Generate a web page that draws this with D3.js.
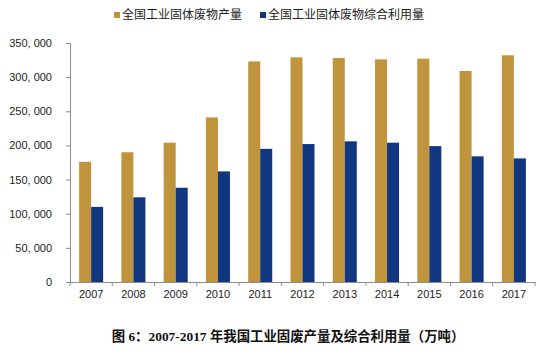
<!DOCTYPE html>
<html><head><meta charset="utf-8">
<script src="https://cdn.jsdelivr.net/npm/d3@7"></script>
<style>body{margin:0;background:#fff;}</style>
</head><body>
<svg id="chart" width="546" height="357"></svg>
<script>
const years = ["2007","2008","2009","2010","2011","2012","2013","2014","2015","2016","2017"];
const production = [176000,190000,204000,241000,323000,329000,328000,326000,327000,309000,332000];
const utilization = [110000,124000,138000,162000,195000,202000,206000,204000,199000,184000,181000];
const seriesNames = ["全国工业固体废物产量","全国工业固体废物综合利用量"];
const seriesColors = ["#C0943C","#10367F"];
const yTicks = [0,50000,100000,150000,200000,250000,300000,350000];
const caption = "图 6：2007-2017 年我国工业固废产量及综合利用量（万吨）";

const svg = d3.select("#chart");
const x0 = d3.scaleBand().domain(years).range([70,535]).padding(0);
const x1 = d3.scaleBand().domain([0,1]).range([0,x0.bandwidth()]).paddingInner(0).paddingOuter(0.76);
const y = d3.scaleLinear().domain([0,350000]).range([282,43]);
const axisColor = "#8c8c8c";

// bars
const data = [production, utilization];
data.forEach((vals, s) => {
  svg.append("g").selectAll("rect").data(years).join("rect")
    .attr("x", (d) => x0(d) + x1(s))
    .attr("width", x1.bandwidth())
    .attr("y", (d,i) => y(vals[i]))
    .attr("height", (d,i) => y(0) - y(vals[i]))
    .attr("fill", seriesColors[s]);
});

// y axis
const fmt = v => d3.format(",")(v).replace(/,/g, ", ");
const yAxis = svg.append("g").attr("transform","translate(70,0)")
  .call(d3.axisLeft(y).tickValues(yTicks).tickFormat(fmt).tickSize(4).tickPadding(14));
yAxis.select(".domain").attr("stroke", axisColor);
yAxis.selectAll(".tick line").attr("stroke", axisColor);
yAxis.selectAll("text").attr("fill","#222").style("font-family","Liberation Sans, Arial, sans-serif").style("font-size","11px");

// x axis
const xAxis = svg.append("g").attr("transform","translate(0,282)")
  .call(d3.axisBottom(x0).tickSize(0).tickPadding(8));
xAxis.select(".domain").attr("stroke", axisColor);
xAxis.selectAll("text").attr("fill","#222").style("font-family","Liberation Sans, Arial, sans-serif").style("font-size","11px");
// separators at band boundaries
const bounds = years.map(d => x0(d)).concat([x0(years[years.length-1]) + x0.bandwidth()]);
svg.append("g").selectAll("line").data(bounds).join("line")
  .attr("x1", d=>d).attr("x2", d=>d).attr("y1",282).attr("y2",286)
  .attr("stroke", axisColor);

// legend
const legendX = [114, 260];
seriesNames.forEach((n,i) => {
  const g = svg.append("g").attr("transform",`translate(${legendX[i]},0)`);
  g.append("rect").attr("x",0).attr("y",12).attr("width",6).attr("height",6).attr("fill",seriesColors[i]);
  g.append("text").attr("x",8).attr("y",15).attr("dy","0.35em")
    .style("font-family","Noto Sans CJK SC, sans-serif").style("font-size","12px").attr("fill","#222").text(n);
});

// caption
svg.append("text").attr("x",288).attr("y",336).attr("dy","0.35em").attr("text-anchor","middle")
  .style("font-family","Liberation Serif, Noto Sans CJK SC, serif").style("font-weight","bold").style("font-size","13.4px")
  .attr("fill","#111").text(caption);
</script>
</body></html>
